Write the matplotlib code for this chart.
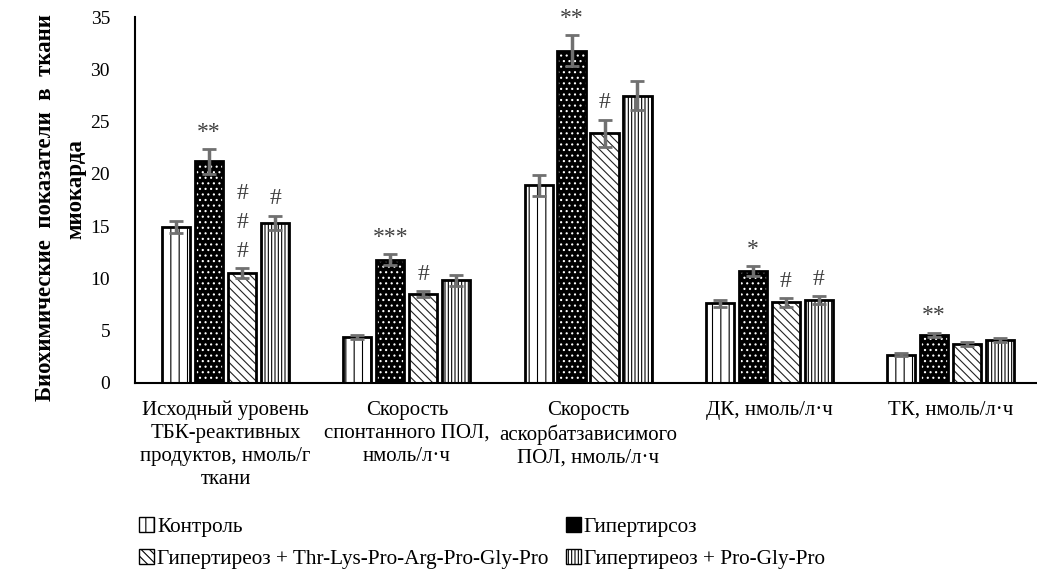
import numpy as np
import matplotlib.pyplot as plt
from matplotlib.patches import Patch

plt.rcParams['font.family'] = ['Liberation Serif', 'DejaVu Serif']
plt.rcParams['hatch.linewidth'] = 0.8

categories = ['Исходный уровень\nТБК-реактивных\nпродуктов, нмоль/г\nткани',
              'Скорость\nспонтанного ПОЛ,\nнмоль/л·ч',
              'Скорость\nаскорбатзависимого\nПОЛ, нмоль/л·ч',
              'ДК, нмоль/л·ч',
              'ТК, нмоль/л·ч']
series = ['Контроль', 'Гипертирсоз',
          'Гипертиреоз + Thr-Lys-Pro-Arg-Pro-Gly-Pro', 'Гипертиреоз + Pro-Gly-Pro']

control = [14.9, 4.4, 18.9, 7.6, 2.7]
hyper = [21.2, 11.8, 31.8, 10.7, 4.6]
thr = [10.5, 8.5, 23.9, 7.7, 3.7]
pgp = [15.3, 9.8, 27.5, 7.9, 4.1]

control_err = [0.6, 0.2, 1.0, 0.3, 0.15]
hyper_err = [1.2, 0.5, 1.5, 0.5, 0.2]
thr_err = [0.5, 0.3, 1.3, 0.4, 0.2]
pgp_err = [0.7, 0.5, 1.4, 0.4, 0.2]

# significance marks: (group, series index, text)
marks = [(0, 1, '**'), (0, 2, '#\n#\n#'), (0, 3, '#'),
         (1, 1, '***'), (1, 2, '#'),
         (2, 1, '**'), (2, 2, '#'),
         (3, 1, '*'), (3, 2, '#'), (3, 3, '#'),
         (4, 1, '**')]

values = [control, hyper, thr, pgp]
errors = [control_err, hyper_err, thr_err, pgp_err]
# (face, hatch colour, hatch)
styles = [('white', 'black', '||'),
          ('black', 'white', '...'),
          ('white', '#222222', '\\\\\\\\'),
          ('white', 'black', '|||||')]

fig = plt.figure(figsize=(10.37, 5.73), dpi=100)
ax = fig.add_axes([0.1302, 0.332, 0.8737, 0.638])

x = np.arange(len(categories))
w = 0.155
step = 0.182
for i, (v, e, st) in enumerate(zip(values, errors, styles)):
    pos = x + (i - 1.5) * step
    ax.bar(pos, v, w, color=st[0], edgecolor=st[1], hatch=st[2], linewidth=0)
    ax.bar(pos, v, w, color='none', edgecolor='black', linewidth=2)
    ax.errorbar(pos, v, yerr=e, fmt='none', ecolor='#707070', elinewidth=2.5, capsize=5, capthick=2)

for g, s, t in marks:
    pos = x[g] + (s - 1.5) * step
    top = values[s][g] + errors[s][g]
    ax.text(pos, top + 0.6, t, ha='center', va='bottom', fontsize=17, color='#404040',
            linespacing=1.5)

ax.set_xlim(-0.5, 4.5)
ax.set_ylim(0, 35)
ax.set_yticks(range(0, 36, 5))
ax.tick_params(axis='y', length=0, labelsize=14, pad=18)
ax.tick_params(axis='x', length=0, labelsize=15, pad=13)
ax.set_xticks(x)
ax.set_xticklabels(categories, linespacing=1.28)
for sp in ['top', 'right']:
    ax.spines[sp].set_visible(False)
ax.spines['left'].set_linewidth(1.5)
ax.spines['bottom'].set_linewidth(1.5)

fig.text(0.044, 0.637, 'Биохимические  показатели  в  ткани', rotation=90, ha='center', va='center',
         fontsize=16.5, fontweight='bold')
fig.text(0.073, 0.67, 'миокарда', rotation=90, ha='center', va='center',
         fontsize=16.5, fontweight='bold')

handles = []
for st, name in zip(styles, series):
    handles.append(Patch(facecolor=st[0], edgecolor=st[1], hatch=st[2], label=name))
# legend fills column by column, so put the row order in
order = [0, 2, 1, 3]
leg = fig.legend(handles=[handles[k] for k in order], loc='lower left',
                 bbox_to_anchor=(0.118, -0.022), ncol=2,
                 frameon=False, fontsize=15.3, handlelength=0.7, handleheight=0.7,
                 handletextpad=0.15, columnspacing=0.8, labelspacing=0.55, borderpad=0.3)
for p in leg.get_patches():
    p.set_linewidth(1)
    p.set_edgecolor('black')

fig.savefig('out.png', dpi=100)
